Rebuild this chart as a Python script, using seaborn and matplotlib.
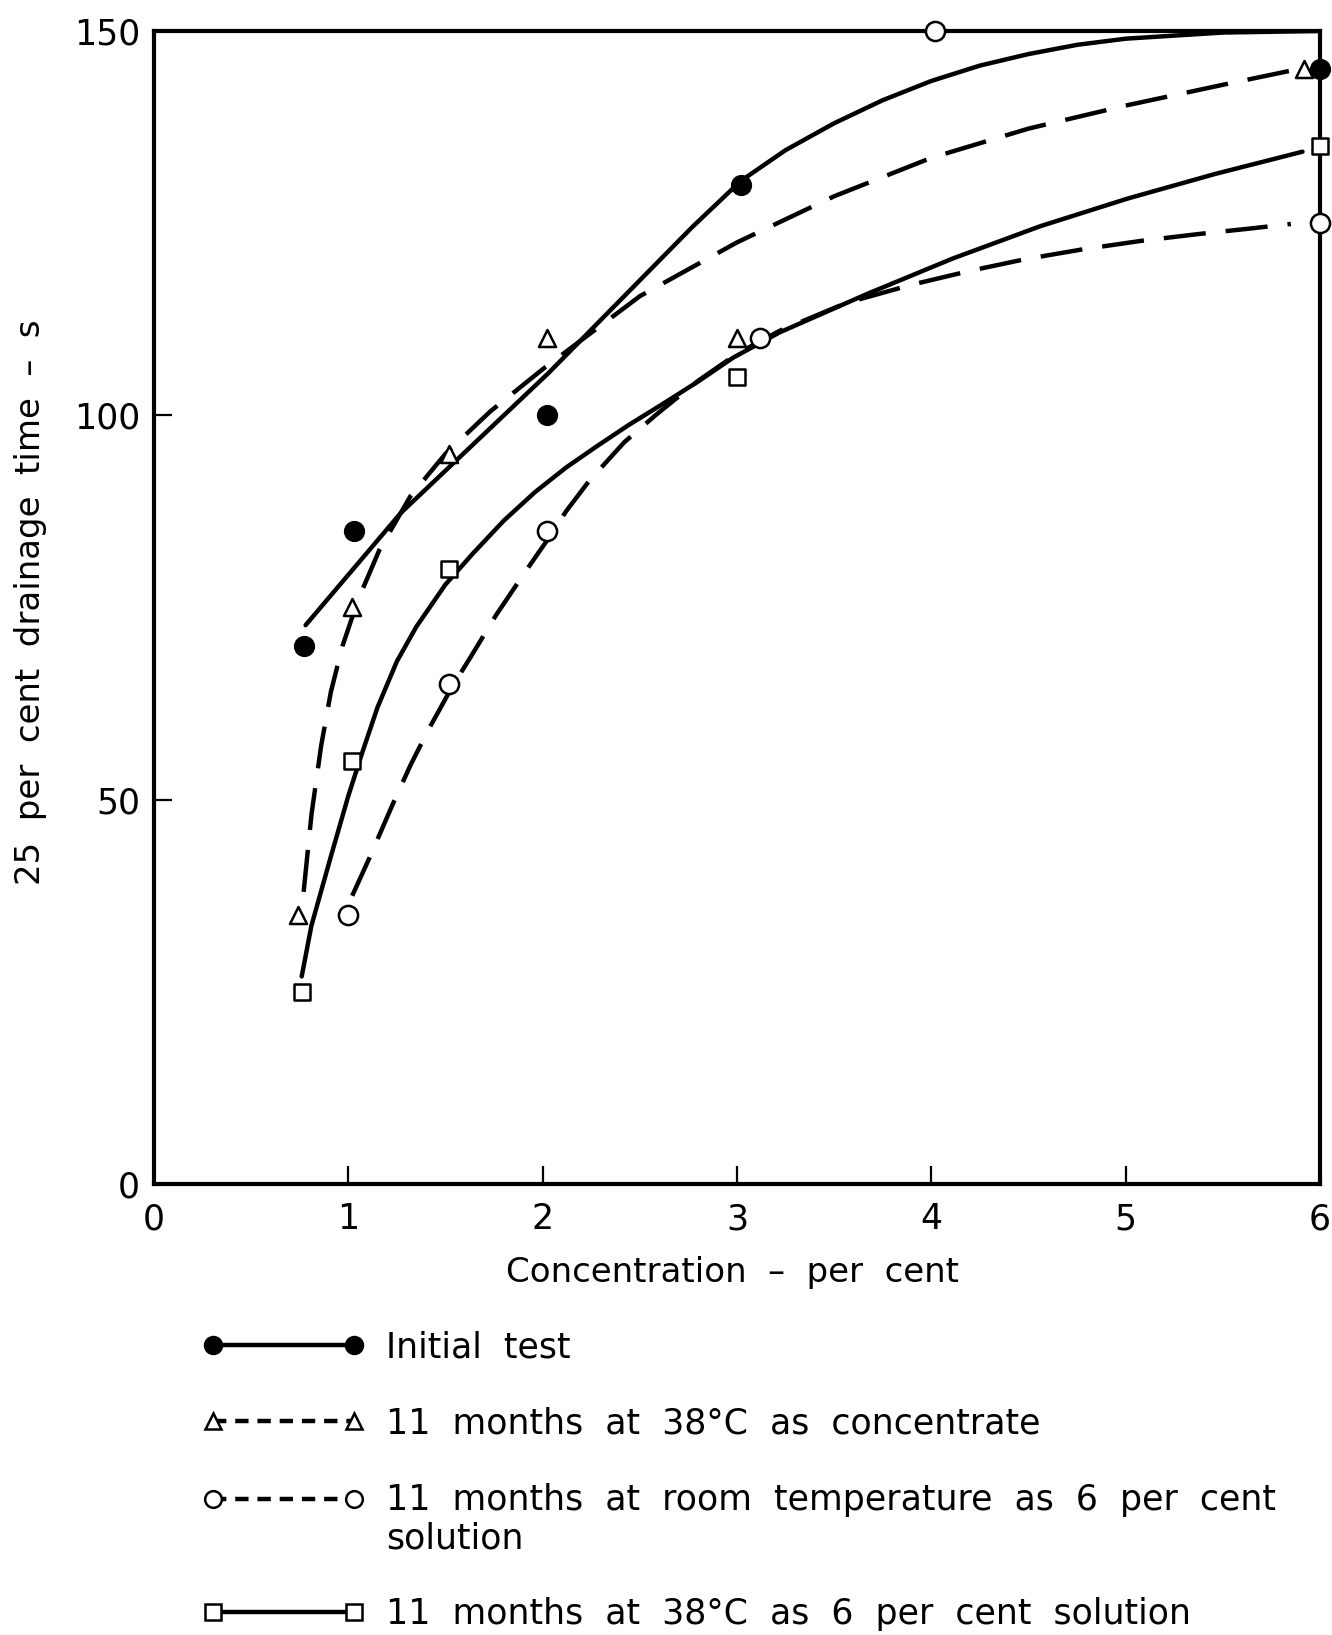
import matplotlib
matplotlib.use("Agg")
import matplotlib.pyplot as plt
import seaborn as sns
from matplotlib.lines import Line2D

# ---------------- data ----------------
# measured points
conc_initial = [0.77, 1.03, 2.02, 3.02, 6.0]
time_initial = [70, 85, 100, 130, 145]

conc_conc38 = [0.74, 1.02, 1.52, 2.02, 3.0, 5.92]
time_conc38 = [35, 75, 95, 110, 110, 145]

conc_room = [1.0, 1.52, 2.02, 3.12, 4.02, 6.0]
time_room = [35, 65, 85, 110, 150, 125]

conc_sol38 = [0.76, 1.02, 1.52, 3.0, 6.0]
time_sol38 = [25, 55, 80, 105, 135]

# hand-drawn fitted curves
curve_initial_x = [0.78, 1.27, 2.03, 2.77, 3.02, 3.25, 3.5, 3.75, 4.0, 4.25, 4.5, 4.75, 5.0, 5.5, 6.0]
curve_initial_y = [72.7, 87.3, 105.5, 124.5, 130.5, 134.5, 138.0, 141.0, 143.5, 145.5, 147.0, 148.2, 149.0, 149.8, 150.0]

curve_conc38_x = [0.77, 0.81, 0.86, 0.91, 0.97, 1.05, 1.16, 1.32, 1.5, 1.73, 2.0, 2.5, 3.0, 3.5, 4.0, 4.5, 5.0, 5.5, 5.88]
curve_conc38_y = [38, 48, 57, 64, 70, 76, 82.5, 89.5, 95, 100.5, 106, 115.5, 122.5, 128.5, 133.5, 137.3, 140.3, 143, 145]

curve_room_x = [1.02, 1.11, 1.23, 1.32, 1.41, 1.53, 1.64, 1.76, 1.92, 2.03, 2.12, 2.24, 2.42, 2.58, 2.8, 3.0,
                3.22, 3.56, 3.9, 4.2, 4.48, 4.78, 5.08, 5.38, 5.64, 5.85]
curve_room_y = [37.5, 42.5, 49.5, 54.5, 59, 64.5, 69, 74, 80, 84, 87.5, 91.5, 96.5, 100, 104.5, 108,
                111, 114.6, 117, 118.8, 120.3, 121.6, 122.7, 123.6, 124.3, 124.9]

curve_sol38_x = [0.76, 0.81, 0.91, 1.0, 1.07, 1.15, 1.25, 1.35, 1.5, 1.64, 1.8, 1.96, 2.12, 2.28, 2.44, 2.6,
                 2.8, 2.98, 3.22, 3.67, 4.11, 4.56, 5.01, 5.46, 5.91]
curve_sol38_y = [27, 33.6, 42.6, 50.5, 56, 62, 68, 72.5, 78, 82, 86.3, 90, 93.2, 96, 98.7, 101.2,
                 104.4, 107.5, 110.8, 115.8, 120.4, 124.6, 128.2, 131.4, 134.3]

labels = ["Initial  test",
          "11  months  at  38°C  as  concentrate",
          "11  months  at  room  temperature  as  6  per  cent\nsolution",
          "11  months  at  38°C  as  6  per  cent  solution"]

x_ticks = [0, 1, 2, 3, 4, 5, 6]
y_ticks = [0, 50, 100, 150]

# ---------------- style ----------------
sns.set_style("ticks")
plt.rcParams['font.family'] = ['DejaVu Sans']
plt.rcParams['text.color'] = 'black'
plt.rcParams['axes.labelcolor'] = 'black'
plt.rcParams['xtick.color'] = 'black'
plt.rcParams['ytick.color'] = 'black'

W, H = 1332, 1635
fig = plt.figure(figsize=(W / 100, H / 100), dpi=100)
L, R, T, B = 154, 1320, 31, 1184
ax = fig.add_axes([L / W, 1 - B / H, (R - L) / W, (B - T) / H])

LW = 3.2
DASH = (0, (9.5, 4.5))
FS_TICK = 25
FS_LAB = 24.5
FS_LEG = 25

# curves
sns.lineplot(x=curve_initial_x, y=curve_initial_y, ax=ax, color='black', lw=LW,
             estimator=None, sort=False, zorder=2)
sns.lineplot(x=curve_conc38_x, y=curve_conc38_y, ax=ax, color='black', lw=LW,
             estimator=None, sort=False, linestyle=DASH, zorder=2)
sns.lineplot(x=curve_room_x, y=curve_room_y, ax=ax, color='black', lw=LW,
             estimator=None, sort=False, linestyle=DASH, zorder=2)
sns.lineplot(x=curve_sol38_x, y=curve_sol38_y, ax=ax, color='black', lw=LW,
             estimator=None, sort=False, zorder=2)

# markers
sns.scatterplot(x=conc_initial, y=time_initial, ax=ax, marker='o', s=190, color='black',
                edgecolor='black', linewidth=1.5, clip_on=False, zorder=6)
sns.scatterplot(x=conc_conc38, y=time_conc38, ax=ax, marker='^', s=150, color='white',
                edgecolor='black', linewidth=1.8, clip_on=False, zorder=6)
sns.scatterplot(x=conc_room, y=time_room, ax=ax, marker='o', s=190, color='white',
                edgecolor='black', linewidth=1.8, clip_on=False, zorder=6)
sns.scatterplot(x=conc_sol38, y=time_sol38, ax=ax, marker='s', s=140, color='white',
                edgecolor='black', linewidth=1.8, clip_on=False, zorder=6)

ax.set_xlim(0, 6)
ax.set_ylim(0, 150)
ax.set_xticks(x_ticks)
ax.set_yticks(y_ticks)
ax.set_xticklabels([str(v) for v in x_ticks])
ax.set_yticklabels([str(v) for v in y_ticks])
ax.tick_params(axis='both', direction='in', length=13, width=1.6, labelsize=FS_TICK, colors='black')
ax.tick_params(axis='x', pad=13)
ax.tick_params(axis='y', pad=10)
for sp in ax.spines.values():
    sp.set_visible(True)
    sp.set_linewidth(3)
    sp.set_color('black')

ax.set_xlabel("Concentration  –  per  cent", fontsize=FS_LAB, va='center')
ax.xaxis.set_label_coords((733 - L) / (R - L), (B - 1272) / (B - T))
ax.set_ylabel("25  per  cent  drainage  time  –  s", fontsize=FS_LAB, va='center')
ax.yaxis.set_label_coords((31 - L) / (R - L), (B - 602) / (B - T))

handles = [
    Line2D([0], [0], color='black', lw=LW, marker='o', markersize=13, markerfacecolor='black',
           markeredgecolor='black'),
    Line2D([0], [0], color='black', lw=LW, linestyle=(0, (3, 2)), marker='^', markersize=11,
           markerfacecolor='white', markeredgecolor='black', markeredgewidth=1.8),
    Line2D([0], [0], color='black', lw=LW, linestyle=(0, (3, 2)), marker='o', markersize=12,
           markerfacecolor='white', markeredgecolor='black', markeredgewidth=1.8),
    Line2D([0], [0], color='black', lw=LW, marker='s', markersize=11, markerfacecolor='white',
           markeredgecolor='black', markeredgewidth=1.8),
]
leg = ax.legend(handles, labels, loc='upper left', bbox_to_anchor=(203 / W, 1 - 1330 / H),
                bbox_transform=fig.transFigure, frameon=False, fontsize=FS_LEG, numpoints=2,
                handlelength=4.66, handletextpad=0.61, labelspacing=1.22, borderpad=0,
                borderaxespad=0)
for t in leg.get_texts():
    t.set_linespacing(1.16)
# align the handle of the two-line entry with its first text line
h3 = leg.legend_handles[2]
h3.set_ydata([y + 0.5 * FS_LEG * 1.2 for y in h3.get_ydata()])

fig.savefig("out.png", dpi=100, facecolor='white')
